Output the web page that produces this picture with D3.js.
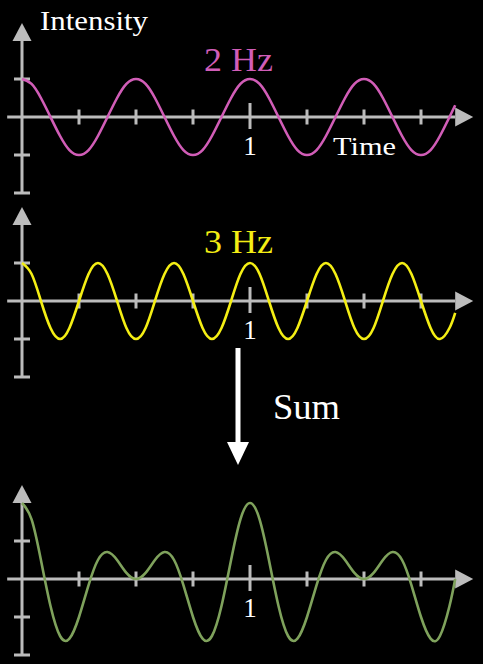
<!DOCTYPE html>
<html>
<head>
<meta charset="utf-8">
<script src="https://cdn.jsdelivr.net/npm/d3@7"></script>
<style>
html,body{margin:0;padding:0;background:#000;}
svg{display:block;}
text{font-family:"Liberation Serif","Times New Roman",Times,"DejaVu Serif","Noto Serif",serif;}
</style>
</head>
<body>
<svg id="chart" width="483" height="664"></svg>
<script>
// ---- data ----
const times = [0, 0.042, 0.083, 0.125, 0.167, 0.208, 0.25, 0.292, 0.333, 0.375, 0.417, 0.458,
  0.5, 0.542, 0.583, 0.625, 0.667, 0.708, 0.75, 0.792, 0.833, 0.875, 0.917, 0.958,
  1, 1.042, 1.083, 1.125, 1.167, 1.208, 1.25, 1.292, 1.333, 1.375, 1.417, 1.458,
  1.5, 1.542, 1.583, 1.625, 1.667, 1.708, 1.75, 1.792, 1.833, 1.875, 1.9];
const wave2Hz = [1, 0.87, 0.5, 0, -0.5, -0.87, -1, -0.87, -0.5, 0, 0.5, 0.87,
  1, 0.87, 0.5, 0, -0.5, -0.87, -1, -0.87, -0.5, 0, 0.5, 0.87,
  1, 0.87, 0.5, 0, -0.5, -0.87, -1, -0.87, -0.5, 0, 0.5, 0.87,
  1, 0.87, 0.5, 0, -0.5, -0.87, -1, -0.87, -0.5, 0, 0.31];
const wave3Hz = [1, 0.71, 0, -0.71, -1, -0.71, 0, 0.71,
  1, 0.71, 0, -0.71, -1, -0.71, 0, 0.71,
  1, 0.71, 0, -0.71, -1, -0.71, 0, 0.71,
  1, 0.71, 0, -0.71, -1, -0.71, 0, 0.71,
  1, 0.71, 0, -0.71, -1, -0.71, 0, 0.71,
  1, 0.71, 0, -0.71, -1, -0.71, -0.31];
const waveSum = [2, 1.57, 0.5, -0.71, -1.5, -1.57, -1, -0.16, 0.5, 0.71, 0.5, 0.16,
  0, 0.16, 0.5, 0.71, 0.5, -0.16, -1, -1.57, -1.5, -0.71, 0.5, 1.57,
  2, 1.57, 0.5, -0.71, -1.5, -1.57, -1, -0.16, 0.5, 0.71, 0.5, 0.16,
  0, 0.16, 0.5, 0.71, 0.5, -0.16, -1, -1.57, -1.5, -0.71, 0];
const xTicks = [0.25, 0.5, 0.75, 1, 1.25, 1.5, 1.75];
const xTickLabels = ["", "", "", "1", "", "", ""];
const yTicks = [-2, -1, 1];
const panelTitles = ["2 Hz", "3 Hz", ""];

// ---- layout ----
const svg = d3.select("#chart");
svg.append("rect").attr("width", 483).attr("height", 664).attr("fill", "#000");

const axisColor = "#bcbcbc";
const colors = ["#d15db7", "#f4ee14", "#7fa25c"];
const series = [wave2Hz, wave3Hz, waveSum];
const axisYs = [117, 301, 579];
const titleYs = [71, 253, null];

const x = d3.scaleLinear().domain([0, 1]).range([22, 250]);

series.forEach((vals, i) => {
  const ay = axisYs[i];
  const y = d3.scaleLinear().domain([-2, 2]).range([ay + 76, ay - 76]);
  const g = svg.append("g");

  // x axis line + arrow
  g.append("line")
    .attr("x1", x(-0.065)).attr("x2", x(1.9))
    .attr("y1", y(0)).attr("y2", y(0))
    .attr("stroke", axisColor).attr("stroke-width", 3);
  g.append("path")
    .attr("d", `M${x(1.9)},${y(0) - 9.5}L${x(1.9) + 18},${y(0)}L${x(1.9)},${y(0) + 9.5}Z`)
    .attr("fill", axisColor);

  // y axis line + arrow
  g.append("line")
    .attr("x1", x(0)).attr("x2", x(0))
    .attr("y1", y(-2)).attr("y2", y(2))
    .attr("stroke", axisColor).attr("stroke-width", 3);
  g.append("path")
    .attr("d", `M${x(0) - 9.5},${y(2)}L${x(0)},${y(2) - 18}L${x(0) + 9.5},${y(2)}Z`)
    .attr("fill", axisColor);

  // y ticks
  g.selectAll(".yt").data(yTicks).enter().append("line")
    .attr("x1", x(0) - 8).attr("x2", x(0) + 8)
    .attr("y1", d => y(d)).attr("y2", d => y(d))
    .attr("stroke", axisColor).attr("stroke-width", 3);

  // x ticks
  g.selectAll(".xt").data(xTicks).enter().append("line")
    .attr("x1", d => x(d)).attr("x2", d => x(d))
    .attr("y1", d => y(0) - (d === 1 ? 14 : 7.5))
    .attr("y2", d => y(0) + (d === 1 ? 12 : 7.5))
    .attr("stroke", axisColor).attr("stroke-width", 3);

  // tick labels
  g.selectAll(".xl").data(xTicks.map((d, j) => [d, xTickLabels[j]]).filter(d => d[1]))
    .enter().append("text")
    .attr("x", d => x(d[0])).attr("y", y(0) + 38)
    .attr("text-anchor", "middle")
    .attr("font-size", 27)
    .attr("fill", "#fff")
    .text(d => d[1]);

  // curve
  const line = d3.line()
    .x((d, j) => x(times[j]))
    .y(d => y(d))
    .curve(d3.curveNatural);
  g.append("path")
    .attr("d", line(vals))
    .attr("fill", "none")
    .attr("stroke", colors[i])
    .attr("stroke-width", 2.6);

  // title
  if (panelTitles[i]) {
    g.append("text")
      .attr("x", 204).attr("y", titleYs[i])
      .attr("font-size", 33)
      .attr("fill", colors[i])
      .attr("textLength", 69).attr("lengthAdjust", "spacingAndGlyphs")
      .text(panelTitles[i]);
  }
});

// axis titles
svg.append("text")
  .attr("x", 40).attr("y", 30)
  .attr("font-size", 27)
  .attr("fill", "#fff")
  .attr("textLength", 108).attr("lengthAdjust", "spacingAndGlyphs")
  .text("Intensity");
svg.append("text")
  .attr("x", 333).attr("y", 155)
  .attr("font-size", 26)
  .attr("fill", "#fff")
  .attr("textLength", 63).attr("lengthAdjust", "spacingAndGlyphs")
  .text("Time");

// Sum arrow
svg.append("line")
  .attr("x1", 238).attr("x2", 238).attr("y1", 348).attr("y2", 444)
  .attr("stroke", "#fff").attr("stroke-width", 5);
svg.append("path")
  .attr("d", "M227,442L249,442L238,465Z")
  .attr("fill", "#fff");
svg.append("text")
  .attr("x", 273).attr("y", 419)
  .attr("font-size", 35)
  .attr("fill", "#fff")
  .attr("textLength", 67).attr("lengthAdjust", "spacingAndGlyphs")
  .text("Sum");
</script>
</body>
</html>
